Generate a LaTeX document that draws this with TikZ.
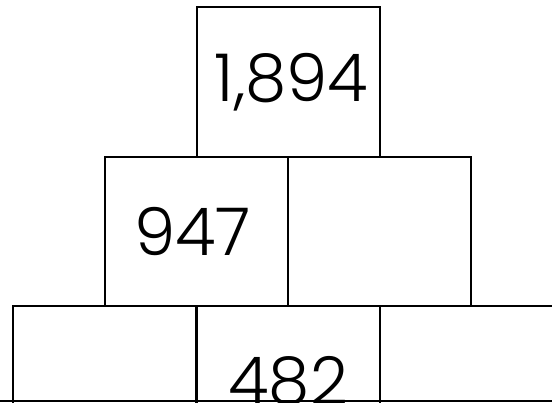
\documentclass[tikz,border=0pt]{standalone}
\usepackage{fontspec}
\setmainfont{Poppins}[UprightFont=* Light]
\begin{document}
\begin{tikzpicture}[x=1pt,y=-1pt,
  cell/.style={draw=black,line width=2.2pt,minimum width=183pt,minimum height=149.5pt,inner sep=0pt,anchor=north west,font=\fontsize{66}{66}\selectfont}]
\useasboundingbox (0,0) rectangle (552,402);
\clip (0,0) rectangle (552,402);
\fill[white] (0,0) rectangle (552,402);
\node[cell] (top) at (195.5,6) {\hspace{7pt}1,894};
\node[cell] (ml) at (104,155.5) {\hspace{-8pt}947};
\node[cell] (mr) at (287,155.5) {};
\node[cell] (bl) at (12,305) {};
\node[cell] (bm) at (195.5,305) {482};
\node[cell] (br) at (378.5,305) {};
\coordinate (bl0) at (0,401);
\coordinate (br0) at (552,401);
\draw[line width=2.2pt] (bl0) -- (br0);
\end{tikzpicture}
\end{document}
